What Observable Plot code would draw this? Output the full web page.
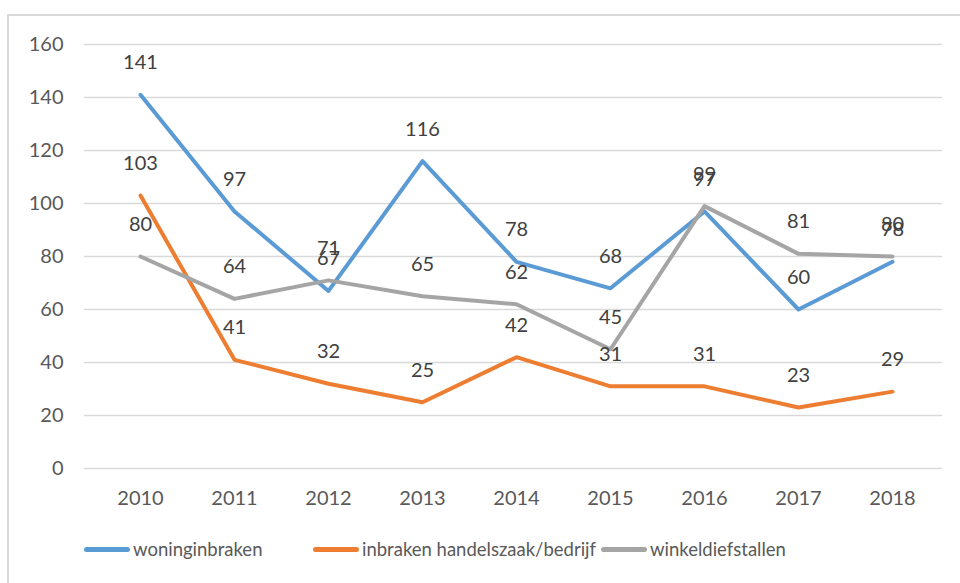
<!DOCTYPE html>
<html>
<head>
<meta charset="utf-8">
<script src="https://cdn.jsdelivr.net/npm/d3@7"></script>
<script src="https://cdn.jsdelivr.net/npm/@observablehq/plot@0.6"></script>
<style>
  body { margin: 0; background: #fff; font-family: Lato, "Open Sans", sans-serif; }
  #wrap { position: relative; width: 960px; height: 583px; overflow: hidden; }
  #frame { position: absolute; left: 7px; top: 14px; width: 1000px; height: 700px; border: 2px solid #d9d9d9; box-sizing: border-box; }
  #chart { position: absolute; left: 0; top: 0; }
  .leg { position: absolute; top: 538px; display: flex; align-items: center; font-size: 18.5px; color: #595959; }
  .sw { width: 46px; height: 5px; border-radius: 3px; margin-right: 3px; }
</style>
</head>
<body>
<div id="wrap">
  <div id="frame"></div>
  <div id="chart"></div>
  <div id="legend"></div>
</div>
<script>
const years = ["2010","2011","2012","2013","2014","2015","2016","2017","2018"];
const woninginbraken = [141, 97, 67, 116, 78, 68, 97, 60, 78];
const handelszaak = [103, 41, 32, 25, 42, 31, 31, 23, 29];
const winkeldiefstallen = [80, 64, 71, 65, 62, 45, 99, 81, 80];
const seriesNames = ["woninginbraken", "inbraken handelszaak/bedrijf", "winkeldiefstallen"];
const colors = ["#5b9bd5", "#ed7d31", "#a5a5a5"];
const yTicks = [0, 20, 40, 60, 80, 100, 120, 140, 160];

const seriesValues = [woninginbraken, handelszaak, winkeldiefstallen];
const data = [];
seriesValues.forEach((vals, si) => vals.forEach((v, i) => data.push({year: years[i], value: v, series: seriesNames[si]})));

const chart = Plot.plot({
  width: 960,
  height: 520,
  marginLeft: 91,
  marginRight: 20,
  marginTop: 44,
  marginBottom: 52,
  style: { fontFamily: "Lato, 'Open Sans', sans-serif", fontSize: "20px", color: "#595959", background: "transparent" },
  x: { domain: years, padding: 0.5, label: null, tickSize: 0, tickPadding: 22 },
  y: { domain: [0, 160], ticks: yTicks, label: null, tickSize: 0, tickPadding: 28 },
  color: { domain: seriesNames, range: colors },
  marks: [
    Plot.ruleY(yTicks, { stroke: "#d9d9d9", strokeWidth: 1.5, insetLeft: -7, insetRight: -2 }),
    Plot.line(data, { x: "year", y: "value", stroke: "series", strokeWidth: 4, z: "series" }),
    Plot.text(data, { x: "year", y: "value", text: d => String(d.value), dy: -32, fill: "#404040", fontSize: 20 })
  ]
});
document.getElementById("chart").appendChild(chart);

const legendLefts = [84, 313, 601];
const legend = document.getElementById("legend");
seriesNames.forEach((name, i) => {
  const item = document.createElement("div");
  item.className = "leg";
  item.style.left = legendLefts[i] + "px";
  item.innerHTML = `<div class="sw" style="background:${colors[i]}"></div><span>${name}</span>`;
  legend.appendChild(item);
});
</script>
</body>
</html>
